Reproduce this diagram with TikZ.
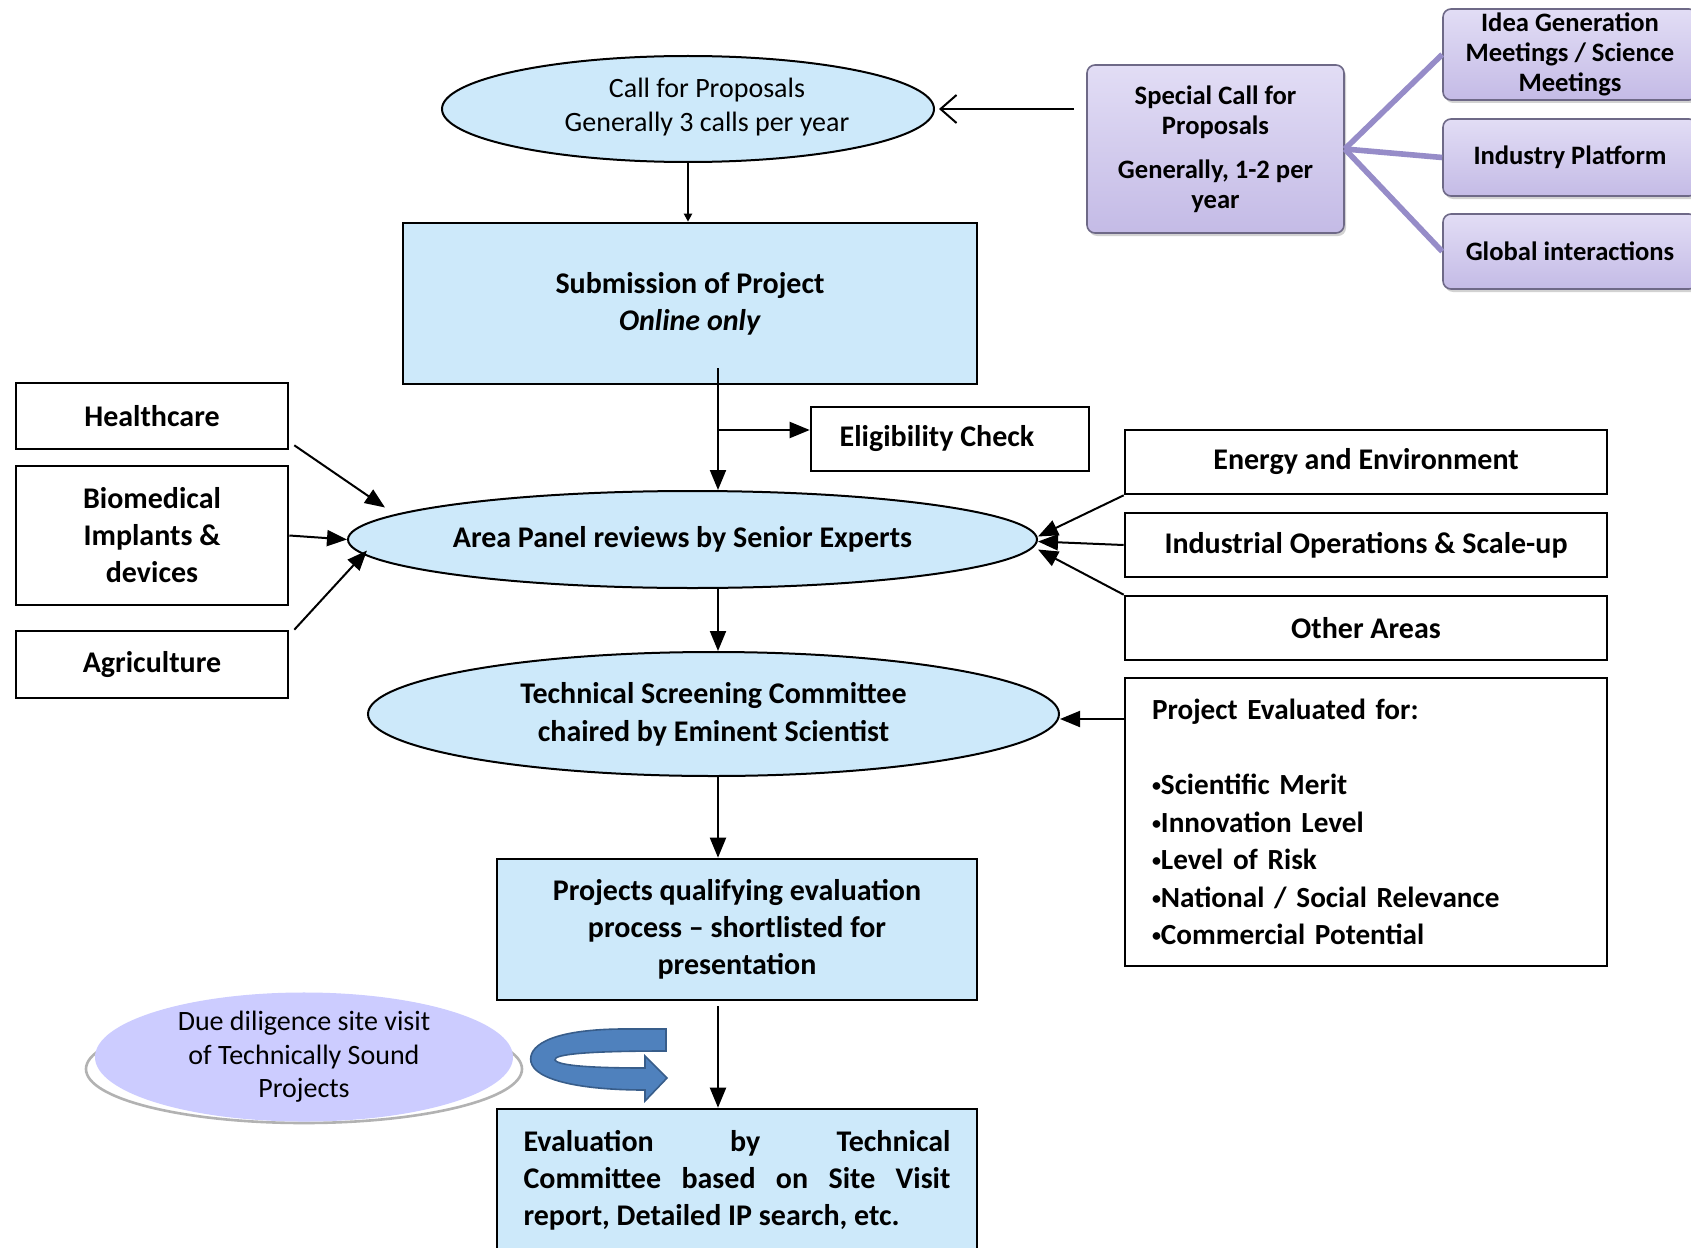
\documentclass[tikz,border=0pt]{standalone}
\usepackage{fontspec}
\setmainfont{Carlito}
\usetikzlibrary{shapes.geometric,arrows.meta,calc,shadows}

\definecolor{paleblue}{RGB}{205,233,250}
\definecolor{lilactop}{RGB}{226,221,245}
\definecolor{lilacbot}{RGB}{196,187,230}
\definecolor{lilacedge}{RGB}{110,105,135}
\definecolor{spokecol}{RGB}{150,140,200}
\definecolor{duefill}{RGB}{204,204,255}
\definecolor{turnfill}{RGB}{79,129,189}
\definecolor{turnedge}{RGB}{56,93,138}

\newcommand\fsmain{\fontsize{15}{18.5}\selectfont\bfseries}
\newcommand\fssmall{\fontsize{13.3}{15}\selectfont\bfseries}
\newcommand\bul{\raisebox{1.5pt}{\fontsize{9}{9}\selectfont•}}

\begin{document}
\begin{tikzpicture}[x=0.5pt,y=-0.5pt,
  box/.style={rectangle, draw=black, line width=1.3pt, fill=white, inner sep=0pt, align=center, font=\fsmain},
  bluebox/.style={box, fill=paleblue},
  oval/.style={ellipse, draw=black, line width=1pt, fill=paleblue, inner sep=0pt, align=center, font=\fsmain},
  lilacbox/.style={rectangle, rounded corners=4pt, draw=lilacedge, line width=0.8pt,
    top color=lilactop, bottom color=lilacbot, inner sep=0pt, align=center, font=\fssmall,
    drop shadow={shadow xshift=1pt, shadow yshift=-1.5pt, opacity=0.35}},
  flow/.style={line width=1pt, -{Triangle[length=10pt,width=8pt]}},
  flowsmall/.style={line width=1pt, -{Triangle[length=4pt,width=4pt]}},
  spoke/.style={line width=2.8pt, draw=spokecol},
]
\useasboundingbox (0,0) rectangle (1691,1247);
\fill[white] (0,0) rectangle (1691,1247);

% ---- top: calls for proposals
\node[oval, minimum width=246pt, minimum height=53pt, font=\fontsize{14}{17.25}\selectfont] (call) at (688,109)
  {\hspace*{19pt}Call for Proposals\\\hspace*{19pt}Generally 3 calls per year\\[-13pt]\mbox{}};
\node[bluebox, minimum width=287pt, minimum height=80.5pt] (sub) at (690,303.5)
  {Submission of Project\\\textit{Online only}};

\node[lilacbox, minimum width=128.5pt, minimum height=84pt] (special) at (1215.5,149)
  {Special Call for\\Proposals\\[7pt]Generally, 1-2 per\\year};
\node[lilacbox, minimum width=127pt, minimum height=45.5pt] (idea) at (1570,54.5)
  {Idea Generation\\Meetings / Science\\Meetings};
\node[lilacbox, minimum width=127pt, minimum height=38.5pt] (industry) at (1570,157.5)
  {Industry Platform};
\node[lilacbox, minimum width=127pt, minimum height=37.5pt] (global) at (1570,251.5)
  {Global interactions};

\draw[spoke] (special.east) -- (idea.west);
\draw[spoke] (special.east) -- (industry.west);
\draw[spoke] (special.east) -- (global.west);
\draw[line width=1pt, -{Straight Barb[length=8pt,width=14pt]}]
  ($(special.west |- call.east)+(-12,0)$) -- ($(call.east)+(4,0)$);
\draw[flowsmall] (call.south) -- (call.south |- sub.north);

% ---- area panel and its inputs
\node[box, minimum width=139pt, minimum height=32pt] (elig) at (950,439) {\hspace*{-13pt}Eligibility Check};
\node[oval, minimum width=344.5pt, minimum height=48.5pt] (area) at (692.5,539.5)
  {\hspace*{-10pt}Area Panel reviews by Senior Experts};

\node[box, minimum width=136pt, minimum height=33pt] (health) at (152,416) {Healthcare};
\node[box, minimum width=136pt, minimum height=69.5pt] (bio) at (152,535.5) {Biomedical\\Implants \&\\devices};
\node[box, minimum width=136pt, minimum height=33.5pt] (agri) at (152,664.5) {Agriculture};

\node[box, minimum width=241pt, minimum height=32pt] (energy) at (1366,462) {Energy and Environment};
\node[box, minimum width=241pt, minimum height=32pt] (indus) at (1366,545) {Industrial Operations \& Scale-up};
\node[box, minimum width=241pt, minimum height=32pt] (other) at (1366,628) {Other Areas};

\coordinate (spine) at (718,0);
\coordinate (eligin) at ($(elig.west)+(0,-9)$);
\draw[flow] ($(sub.south -| spine)+(0,-17)$) -- (area.north -| spine);
\draw[flow] (spine |- eligin) -- (eligin);

\draw[flow] ($(health.south east)+(5,-5)$) -- ($(area.west)+(38,-32)$);
\draw[flow] (bio.east) -- (area.west);
\draw[flow] ($(agri.north east)+(5,0)$) -- ($(area.west)+(20,11)$);

\draw[flow] (energy.south west) -- ($(area.east)+(0,-3)$);
\draw[flow] (indus.west) -- ($(area.east)+(0,2)$);
\draw[flow] (other.north west) -- ($(area.east)+(0,10)$);

% ---- screening and evaluation
\node[oval, minimum width=345.5pt, minimum height=62pt, font=\fontsize{15}{19}\selectfont\bfseries] (tech) at (713.5,714)
  {Technical Screening Committee\\chaired by Eminent Scientist};
\node[box, minimum width=241pt, minimum height=144pt, text width=214pt, align=left,
      font=\fontsize{14.6}{18.75}\selectfont\bfseries] (evalfor) at (1366,822)
  {Project Evaluated for:\\[18.75pt]\bul Scientific Merit\\\bul Innovation Level\\\bul Level of Risk\\\bul National / Social Relevance\\\bul Commercial Potential};
\node[bluebox, minimum width=240pt, minimum height=70.5pt] (qual) at (737,929.5)
  {Projects qualifying evaluation\\process – shortlisted for\\presentation};
\node[bluebox, minimum width=240pt, minimum height=71pt] (evalbox) at (737,1180)
  {\makebox[213.5pt][s]{Evaluation by Technical}\\
   \makebox[213.5pt][s]{Committee based on Site Visit}\\
   \makebox[213.5pt][l]{report, Detailed IP search, etc.}};

\draw[flow] ($(evalfor.west |- tech.east)+(0,5)$) -- ($(tech.east)+(0,5)$);
\draw[flow] (area.south -| spine) -- (tech.north -| spine);
\draw[flow] (tech.south -| spine) -- (qual.north -| spine);
\draw[flow] ($(qual.south -| spine)+(0,5)$) -- (evalbox.north -| spine);

% ---- due diligence disc with its rim
\node[ellipse, fill=white, draw=gray!60, line width=1.3pt, minimum width=218pt, minimum height=54pt] (duebase) at (304,1069) {};
\node[ellipse, fill=duefill, inner sep=0pt, minimum width=209pt, minimum height=54pt, align=center,
      font=\fontsize{14}{16.75}\selectfont] (due) at (304,1057)
  {Due diligence site visit\\of Technically Sound\\Projects};

% ---- curved turn arrow
\fill[turnfill, draw=turnedge, line width=0.8pt]
  (666,1029) -- (620,1029) .. controls (545,1030) and (528,1048) .. (531,1062)
  .. controls (535,1080) and (580,1090) .. (645,1090) -- (645,1101) -- (667,1078)
  -- (645,1056) -- (645,1068) .. controls (595,1068) and (558,1066) .. (555,1060)
  .. controls (553,1054) and (590,1051) .. (666,1051) -- cycle;
\end{tikzpicture}
\end{document}
